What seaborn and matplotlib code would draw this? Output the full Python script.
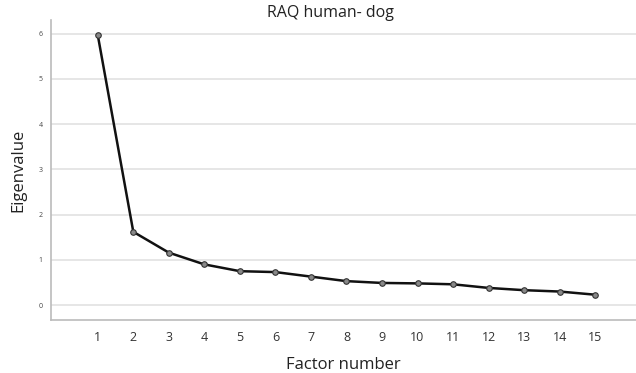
import matplotlib
matplotlib.use("Agg")
import matplotlib.pyplot as plt
import seaborn as sns
import pandas as pd

factor_number = list(range(1, 16))
eigenvalues = [5.97, 1.62, 1.16, 0.90, 0.75, 0.73, 0.63, 0.53, 0.49, 0.48, 0.46, 0.38, 0.33, 0.30, 0.23]
y_ticks = [0, 1, 2, 3, 4, 5, 6]

df = pd.DataFrame({"Factor number": factor_number, "Eigenvalue": eigenvalues})

sns.set_style("white")
plt.rcParams['font.family'] = ['Open Sans', 'DejaVu Sans']

fig = plt.figure(figsize=(6.36, 3.73), dpi=100)
ax = fig.add_axes([0.080, 0.142, 0.92, 0.804])

sns.lineplot(data=df, x="Factor number", y="Eigenvalue", ax=ax, color="#111111",
             linewidth=1.8, marker="o", markersize=4, markerfacecolor="#888888",
             markeredgecolor="#333333", markeredgewidth=0.8, zorder=3)

ax.set_xlim(-0.32, 16.15)
ax.set_ylim(-0.33, 6.3)
ax.set_xticks(factor_number)
ax.set_xticklabels([str(v) for v in factor_number], fontsize=9, color="#333333")
ax.set_yticks(y_ticks)
ax.set_yticklabels([str(v) for v in y_ticks], fontsize=5, color="#444444")
ax.tick_params(axis="x", length=0, pad=8)
ax.tick_params(axis="y", length=0, pad=6)
ax.grid(axis="y", color="#e2e2e2", linewidth=1.2)
ax.set_axisbelow(True)
for side in ["top", "right"]:
    ax.spines[side].set_visible(False)
for side in ["left", "bottom"]:
    ax.spines[side].set_color("#bbbbbb")
    ax.spines[side].set_linewidth(1.2)

ax.set_xlabel("Factor number", fontsize=12, color="#222222", labelpad=9)
ax.set_ylabel("Eigenvalue", fontsize=12, color="#222222", labelpad=9)
fig.text(0.52, 0.965, "RAQ human- dog", fontsize=11.5, color="#222222", ha="center", va="center")

fig.savefig("out.png", dpi=100, facecolor="white")
